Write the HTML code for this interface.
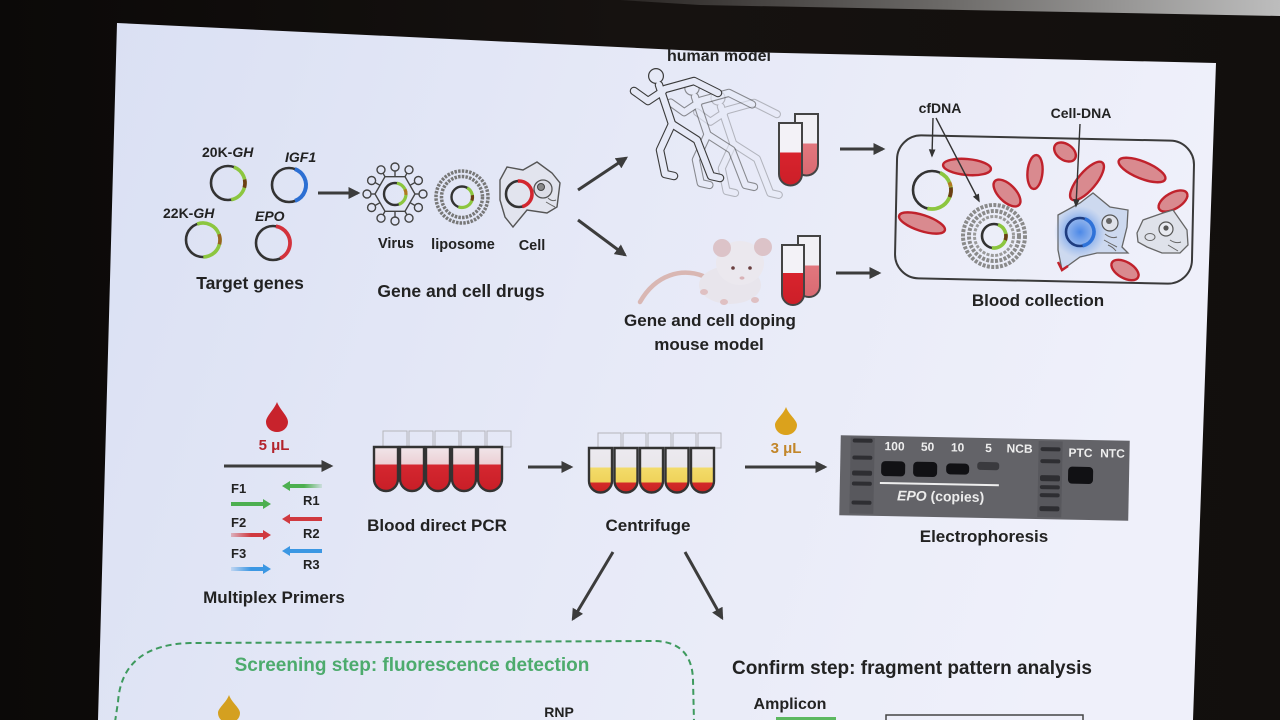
<!DOCTYPE html>
<html><head><meta charset="utf-8"><style>
html,body{margin:0;padding:0;background:#100e0d;}
svg{display:block}
text{font-family:"Liberation Sans",Arial,sans-serif;font-weight:bold;fill:#222}
</style></head><body>
<svg width="1280" height="720" viewBox="0 0 1280 720" xmlns="http://www.w3.org/2000/svg">
<defs>
 <linearGradient id="bg" x1="0" y1="0" x2="1" y2="0">
  <stop offset="0" stop-color="#0b0908"/><stop offset="0.5" stop-color="#161210"/><stop offset="1" stop-color="#120f0d"/>
 </linearGradient>
 <linearGradient id="ceil" x1="0" x2="1" y1="0" y2="0">
  <stop offset="0" stop-color="#2a2624"/><stop offset="0.5" stop-color="#6d6b69"/><stop offset="1" stop-color="#bdbdbd"/>
 </linearGradient>
 <linearGradient id="slide" x1="0" x2="1" y1="0" y2="0.2">
  <stop offset="0" stop-color="#dae0f3"/><stop offset="0.5" stop-color="#e6e9f7"/><stop offset="1" stop-color="#eff0fa"/>
 </linearGradient>
 <clipPath id="sc"><polygon points="117,23 700,51 1216,63 1193,720 98,720"/></clipPath>
 <marker id="ah" viewBox="0 0 10 10" refX="8" refY="5" markerWidth="4" markerHeight="4" orient="auto"><path d="M0,0 L10,5 L0,10 z" fill="#3c3c3c"/></marker>
 <marker id="ahs" viewBox="0 0 10 10" refX="8" refY="5" markerWidth="6" markerHeight="6" orient="auto"><path d="M0,1 L10,5 L0,9 z" fill="#333"/></marker>
 <linearGradient id="gPCR" x1="0" y1="0" x2="0" y2="1">
  <stop offset="0" stop-color="#f1e6ea"/><stop offset="0.4" stop-color="#eccfd4"/><stop offset="0.4" stop-color="#d52730"/><stop offset="1" stop-color="#c81e27"/>
 </linearGradient>
 <linearGradient id="gCen" x1="0" y1="0" x2="0" y2="1">
  <stop offset="0" stop-color="#eceaf0"/><stop offset="0.44" stop-color="#e9e6ea"/><stop offset="0.44" stop-color="#f3dc6a"/><stop offset="0.77" stop-color="#efd25a"/><stop offset="0.77" stop-color="#d42a2a"/><stop offset="1" stop-color="#c82222"/>
 </linearGradient>
 <linearGradient id="gTubeA" x1="0" y1="0" x2="0" y2="1">
  <stop offset="0" stop-color="#f3f2f7"/><stop offset="0.47" stop-color="#f3f2f7"/><stop offset="0.47" stop-color="#d8232d"/><stop offset="1" stop-color="#cc1f28"/>
 </linearGradient>
 <linearGradient id="gTubeB" x1="0" y1="0" x2="0" y2="1">
  <stop offset="0" stop-color="#f1f0f5"/><stop offset="0.48" stop-color="#f1f0f5"/><stop offset="0.48" stop-color="#e2777e"/><stop offset="1" stop-color="#d96a72"/>
 </linearGradient>
 <linearGradient id="gR1" x1="0" x2="1"><stop offset="0" stop-color="#4caf50"/><stop offset="0.55" stop-color="#4caf50"/><stop offset="1" stop-color="#4caf50" stop-opacity="0.15"/></linearGradient>
 <linearGradient id="gF2" x1="0" x2="1"><stop offset="0" stop-color="#d0393f" stop-opacity="0.3"/><stop offset="0.5" stop-color="#d0393f"/><stop offset="1" stop-color="#d0393f"/></linearGradient>
 <linearGradient id="gF3" x1="0" x2="1"><stop offset="0" stop-color="#3b97e3" stop-opacity="0.2"/><stop offset="0.5" stop-color="#3b97e3"/><stop offset="1" stop-color="#3b97e3"/></linearGradient>
 <radialGradient id="glow"><stop offset="0" stop-color="#3d7fe6" stop-opacity="0.9"/><stop offset="0.6" stop-color="#5a92ea" stop-opacity="0.45"/><stop offset="1" stop-color="#7aa6ee" stop-opacity="0"/></radialGradient>
</defs>

<rect width="1280" height="720" fill="url(#bg)"/>
<polygon points="620,0 1280,0 1280,16 700,5" fill="url(#ceil)"/>

<polygon points="117,23 700,51 1216,63 1193,720 98,720" fill="url(#slide)"/>

<g clip-path="url(#sc)">

<text x="202" y="157" font-size="14">20K-<tspan font-style="italic">GH</tspan></text>
<text x="285" y="162" font-size="14" font-style="italic">IGF1</text>
<text x="163" y="218" font-size="14">22K-<tspan font-style="italic">GH</tspan></text>
<text x="255" y="221" font-size="14" font-style="italic">EPO</text>

<g transform="translate(228,183)">
 <circle r="17" fill="none" stroke="#333" stroke-width="2.6"/>
 <circle r="17" fill="none" stroke="#8cc63f" stroke-width="3.6" pathLength="360" stroke-dasharray="150 400" transform="rotate(-70)"/>
 <circle r="17" fill="none" stroke="#6b3e14" stroke-width="3.6" pathLength="360" stroke-dasharray="28 400" transform="rotate(-12)"/>
</g>
<g transform="translate(289,185)">
 <circle r="17" fill="none" stroke="#333" stroke-width="2.6"/>
 <circle r="17" fill="none" stroke="#2c6fd3" stroke-width="4" pathLength="360" stroke-dasharray="140 400" transform="rotate(-70)"/>
</g>
<g transform="translate(203,240)">
 <circle r="17" fill="none" stroke="#333" stroke-width="2.6"/>
 <circle r="17" fill="none" stroke="#8cc63f" stroke-width="3.6" pathLength="360" stroke-dasharray="200 400" transform="rotate(-110)"/>
 <circle r="17" fill="none" stroke="#9a6320" stroke-width="3.6" pathLength="360" stroke-dasharray="35 400" transform="rotate(-20)"/>
</g>
<g transform="translate(273,243)">
 <circle r="17" fill="none" stroke="#333" stroke-width="2.6"/>
 <circle r="17" fill="none" stroke="#d3323c" stroke-width="3.8" pathLength="360" stroke-dasharray="145 400" transform="rotate(-80)"/>
</g>
<text x="250" y="289" font-size="17.5" text-anchor="middle">Target genes</text>

<line x1="318" y1="193" x2="358" y2="193" stroke="#3c3c3c" stroke-width="3" marker-end="url(#ah)"/>

<g transform="translate(395,194)" fill="none" stroke="#444" stroke-width="1.4">
 <polygon points="20,0 10,17.3 -10,17.3 -20,0 -10,-17.3 10,-17.3"/>
 <g>
  <line x1="20" y1="0" x2="24" y2="0"/><circle cx="28" cy="0" r="4"/>
  <line x1="-20" y1="0" x2="-24" y2="0"/><circle cx="-28" cy="0" r="4"/>
  <line x1="10" y1="17.3" x2="12" y2="20.8"/><circle cx="14" cy="24.2" r="4"/>
  <line x1="-10" y1="17.3" x2="-12" y2="20.8"/><circle cx="-14" cy="24.2" r="4"/>
  <line x1="10" y1="-17.3" x2="12" y2="-20.8"/><circle cx="14" cy="-24.2" r="4"/>
  <line x1="-10" y1="-17.3" x2="-12" y2="-20.8"/><circle cx="-14" cy="-24.2" r="4"/>
  <line x1="0" y1="17.3" x2="0" y2="23"/><circle cx="0" cy="27" r="4"/>
  <line x1="0" y1="-17.3" x2="0" y2="-23"/><circle cx="0" cy="-27" r="4"/>
  <line x1="15" y1="8.7" x2="20" y2="11.5"/><circle cx="23.4" cy="13.5" r="4"/>
  <line x1="-15" y1="8.7" x2="-20" y2="11.5"/><circle cx="-23.4" cy="13.5" r="4"/>
  <line x1="15" y1="-8.7" x2="20" y2="-11.5"/><circle cx="23.4" cy="-13.5" r="4"/>
  <line x1="-15" y1="-8.7" x2="-20" y2="-11.5"/><circle cx="-23.4" cy="-13.5" r="4"/>
 </g>
 <circle r="11" stroke="#333" stroke-width="2.4"/>
 <circle r="11" stroke="#8cc63f" stroke-width="3.2" pathLength="360" stroke-dasharray="150 400" transform="rotate(-80)"/>
 <circle r="11" stroke="#b07a22" stroke-width="3.2" pathLength="360" stroke-dasharray="30 400" transform="rotate(-25)"/>
</g>

<g transform="translate(462,197)" fill="none" stroke="#555" stroke-width="0.9">
 <circle r="26" stroke-dasharray="2.5 1.2" stroke-width="3.5" stroke="#777"/>
 <circle r="20.5" stroke-dasharray="2.5 1.2" stroke-width="3.5" stroke="#777"/>
 <circle r="10.5" stroke="#333" stroke-width="2.4"/>
 <circle r="10.5" stroke="#8cc63f" stroke-width="3.2" pathLength="360" stroke-dasharray="170 400" transform="rotate(-60)"/>
 <circle r="10.5" stroke="#6b3e14" stroke-width="3.2" pathLength="360" stroke-dasharray="30 400" transform="rotate(-10)"/>
</g>

<polygon points="500,180 507,167 523,170 537,162 552,173 560,183 557,207 547,213 527,210 513,227 505,217 500,200" fill="#e2e4ee" stroke="#555" stroke-width="1.4"/>
<g transform="translate(519,194)">
 <circle r="13" fill="none" stroke="#333" stroke-width="2.6"/>
 <circle r="13" fill="none" stroke="#d3262e" stroke-width="3.6" pathLength="360" stroke-dasharray="170 400" transform="rotate(-95)"/>
</g>
<circle cx="543" cy="189" r="9" fill="#dcdde6" stroke="#555" stroke-width="1.3"/>
<circle cx="541" cy="187" r="3.5" fill="#888" stroke="#444" stroke-width="1"/>
<path d="M548,198 q4,4 8,2 M546,202 q5,3 9,5" stroke="#666" stroke-width="1" fill="none"/>

<text x="396" y="248" font-size="14.5" text-anchor="middle">Virus</text>
<text x="463" y="249" font-size="14.5" text-anchor="middle">liposome</text>
<text x="532" y="250" font-size="14.5" text-anchor="middle">Cell</text>
<text x="461" y="297" font-size="17.5" text-anchor="middle">Gene and cell drugs</text>

<line x1="578" y1="190" x2="626" y2="158" stroke="#3c3c3c" stroke-width="3" marker-end="url(#ah)"/>
<line x1="578" y1="220" x2="625" y2="255" stroke="#3c3c3c" stroke-width="3" marker-end="url(#ah)"/>

<text x="719" y="61" font-size="16" text-anchor="middle">human model</text>

<g stroke-linecap="round" stroke-linejoin="round" fill="none">
 <g transform="translate(718,98) scale(0.95)" opacity="0.3">
  <g stroke="#3a3a3a" stroke-width="8.5"><path d="M3,9 L16,48"/><path d="M7,15 L-8,25 L-22,15"/><path d="M9,13 L38,5 L62,17"/><path d="M16,48 L4,74 L9,98 L18,100"/><path d="M16,48 L41,64 L55,100 L64,102"/></g>
  <circle r="8" fill="#3a3a3a" stroke="none"/>
  <g stroke="#e8ebf7" stroke-width="6.3"><path d="M3,9 L16,48"/><path d="M7,15 L-8,25 L-22,15"/><path d="M9,13 L38,5 L62,17"/><path d="M16,48 L4,74 L9,98 L18,100"/><path d="M16,48 L41,64 L55,100 L64,102"/></g>
  <circle r="6.8" fill="#e8ebf7" stroke="none"/>
 </g>
 <g transform="translate(692,88) scale(0.97)" opacity="0.55">
  <g stroke="#3a3a3a" stroke-width="8.5"><path d="M3,9 L16,48"/><path d="M7,15 L-8,25 L-22,15"/><path d="M9,13 L38,5 L62,17"/><path d="M16,48 L4,74 L9,98 L18,100"/><path d="M16,48 L41,64 L55,100 L64,102"/></g>
  <circle r="8" fill="#3a3a3a" stroke="none"/>
  <g stroke="#e8ebf7" stroke-width="6.3"><path d="M3,9 L16,48"/><path d="M7,15 L-8,25 L-22,15"/><path d="M9,13 L38,5 L62,17"/><path d="M16,48 L4,74 L9,98 L18,100"/><path d="M16,48 L41,64 L55,100 L64,102"/></g>
  <circle r="6.8" fill="#e8ebf7" stroke="none"/>
 </g>
 <g transform="translate(656,76)">
  <g stroke="#3a3a3a" stroke-width="8.5"><path d="M3,9 L16,48"/><path d="M7,15 L-8,25 L-22,15"/><path d="M9,13 L38,5 L62,17"/><path d="M16,48 L4,74 L9,98 L18,100"/><path d="M16,48 L41,64 L55,100 L64,102"/></g>
  <circle r="8" fill="#3a3a3a" stroke="none"/>
  <g stroke="#e6e9f6" stroke-width="6.3"><path d="M3,9 L16,48"/><path d="M7,15 L-8,25 L-22,15"/><path d="M9,13 L38,5 L62,17"/><path d="M16,48 L4,74 L9,98 L18,100"/><path d="M16,48 L41,64 L55,100 L64,102"/></g>
  <circle r="6.8" fill="#e6e9f6" stroke="none"/>
 </g>
</g>

<path d="M795,114 L795,164 A11.5,11.5 0 0 0 818,164 L818,114 Z" fill="url(#gTubeB)" stroke="#444" stroke-width="2"/>
<path d="M779,123 L779,174 A11.5,11.5 0 0 0 802,174 L802,123 Z" fill="url(#gTubeA)" stroke="#444" stroke-width="2"/>
<line x1="840" y1="149" x2="883" y2="149" stroke="#3c3c3c" stroke-width="3" marker-end="url(#ah)"/>

<g>
 <path d="M703,276 C682,268 656,274 640,302" stroke="#d9b7b3" stroke-width="4.5" fill="none" stroke-linecap="round"/>
 <ellipse cx="730" cy="285" rx="31" ry="19" fill="#e8e5ec"/>
 <ellipse cx="740" cy="263" rx="24" ry="22" fill="#ebe8ee"/>
 <circle cx="722" cy="248" r="9" fill="#dcc3c8"/>
 <circle cx="763" cy="247" r="9" fill="#dcc3c8"/>
 <circle cx="733" cy="268" r="1.8" fill="#6a3f3f"/>
 <circle cx="750" cy="268" r="1.8" fill="#6a3f3f"/>
 <ellipse cx="742" cy="278" rx="2.5" ry="1.6" fill="#d9b2b6"/>
 <ellipse cx="704" cy="292" rx="4" ry="3" fill="#dfc0c2"/>
 <ellipse cx="724" cy="302" rx="4" ry="3" fill="#dfc0c2"/>
 <ellipse cx="755" cy="300" rx="4" ry="3" fill="#dfc0c2"/>
</g>
<path d="M798,236 L798,286 A11,11 0 0 0 820,286 L820,236 Z" fill="url(#gTubeB)" stroke="#444" stroke-width="2"/>
<path d="M782,245 L782,294 A11,11 0 0 0 804,294 L804,245 Z" fill="url(#gTubeA)" stroke="#444" stroke-width="2"/>
<line x1="836" y1="273" x2="879" y2="273" stroke="#3c3c3c" stroke-width="3" marker-end="url(#ah)"/>

<text x="710" y="326" font-size="17" text-anchor="middle">Gene and cell doping</text>
<text x="709" y="350" font-size="17" text-anchor="middle">mouse model</text>

<rect x="896" y="138" width="297" height="143" rx="24" fill="none" stroke="#3a3a3a" stroke-width="2" transform="rotate(1.2 1044 210)"/>
<g fill="#d98a8f" stroke="#c0222c" stroke-width="2.4">
 <ellipse cx="967" cy="167" rx="24" ry="8" transform="rotate(5 967 167)"/>
 <ellipse cx="1007" cy="193" rx="17" ry="8.5" transform="rotate(45 1007 193)"/>
 <ellipse cx="1035" cy="172" rx="7.5" ry="17" transform="rotate(5 1035 172)"/>
 <ellipse cx="1065" cy="152" rx="12" ry="8" transform="rotate(35 1065 152)"/>
 <ellipse cx="1087" cy="181" rx="24" ry="9" transform="rotate(-50 1087 181)"/>
 <ellipse cx="1142" cy="170" rx="25" ry="8.5" transform="rotate(22 1142 170)"/>
 <ellipse cx="1173" cy="201" rx="16" ry="8" transform="rotate(-30 1173 201)"/>
 <ellipse cx="922" cy="223" rx="24" ry="8" transform="rotate(18 922 223)"/>
 <ellipse cx="1125" cy="270" rx="15" ry="8" transform="rotate(30 1125 270)"/>
</g>
<g transform="translate(932,190)">
 <circle r="19" fill="none" stroke="#333" stroke-width="2.6"/>
 <circle r="19" fill="none" stroke="#8cc63f" stroke-width="3.8" pathLength="360" stroke-dasharray="170 400" transform="rotate(-65)"/>
 <circle r="19" fill="none" stroke="#6b3e14" stroke-width="3.8" pathLength="360" stroke-dasharray="30 400" transform="rotate(-8)"/>
 <circle r="19" fill="none" stroke="#b07a22" stroke-width="3.8" pathLength="360" stroke-dasharray="14 400" transform="rotate(-24)"/>
</g>
<g transform="translate(994,236)" fill="none">
 <circle r="31" stroke="#8a8a8a" stroke-width="4" stroke-dasharray="3 1.4"/>
 <circle r="25" stroke="#8a8a8a" stroke-width="4" stroke-dasharray="3 1.4"/>
 <circle r="19.5" stroke="#9a9a9a" stroke-width="3" stroke-dasharray="3 1.4"/>
 <circle r="12" stroke="#333" stroke-width="2.6"/>
 <circle r="12" stroke="#8cc63f" stroke-width="3.6" pathLength="360" stroke-dasharray="170 400" transform="rotate(-70)"/>
 <circle r="12" stroke="#6b3e14" stroke-width="3.6" pathLength="360" stroke-dasharray="30 400" transform="rotate(-10)"/>
</g>
<polygon points="1058,215 1080,203 1093,193 1110,207 1128,210 1127,227 1122,247 1128,253 1097,253 1080,257 1062,270 1058,250" fill="#cdd9ef" stroke="#666" stroke-width="1.3"/>
<path d="M1058,262 L1062,270 L1068,266" stroke="#c0222c" stroke-width="2.5" fill="none"/>
<circle cx="1080" cy="232" r="26" fill="url(#glow)"/>
<circle cx="1080" cy="232" r="14" fill="none" stroke="#1f3d80" stroke-width="2.6"/>
<circle cx="1080" cy="232" r="14" fill="none" stroke="#2f72d8" stroke-width="3.6" pathLength="360" stroke-dasharray="150 400" transform="rotate(-70 1080 232)"/>
<circle cx="1110" cy="223" r="8" fill="#dfe2ea" stroke="#555" stroke-width="1.2"/>
<circle cx="1109" cy="221" r="3" fill="#666"/>
<path d="M1105,234 q6,5 12,3 M1104,240 q7,4 13,7 M1108,245 q5,2 8,6" stroke="#666" stroke-width="1" fill="none"/>
<polygon points="1137,233 1143,220 1163,213 1173,210 1187,230 1188,245 1180,253 1162,253 1147,247 1138,242" fill="#dfe2ea" stroke="#666" stroke-width="1.3"/>
<circle cx="1166" cy="229" r="7" fill="#e8eaf0" stroke="#555" stroke-width="1.2"/>
<circle cx="1166" cy="228" r="2.6" fill="#555"/>
<ellipse cx="1150" cy="237" rx="5" ry="3.5" fill="none" stroke="#666" stroke-width="1"/>
<path d="M1170,240 q6,4 11,2 M1168,245 q5,3 10,6" stroke="#666" stroke-width="1" fill="none"/>

<text x="940" y="113" font-size="14" text-anchor="middle">cfDNA</text>
<text x="1081" y="118" font-size="14" text-anchor="middle">Cell-DNA</text>
<line x1="933" y1="118" x2="932" y2="156" stroke="#333" stroke-width="1.4" marker-end="url(#ahs)"/>
<line x1="936" y1="118" x2="979" y2="201" stroke="#333" stroke-width="1.4" marker-end="url(#ahs)"/>
<line x1="1080" y1="124" x2="1076" y2="206" stroke="#333" stroke-width="1.4" marker-end="url(#ahs)"/>
<text x="1038" y="306" font-size="17" text-anchor="middle">Blood collection</text>

<path d="M277,402 C274,410 266,416 266,422 A11,10 0 0 0 288,422 C288,416 280,410 277,402Z" fill="#c8232c"/>
<text x="274" y="450" font-size="15" text-anchor="middle" style="fill:#b3232c">5 μL</text>
<line x1="224" y1="466" x2="331" y2="466" stroke="#3c3c3c" stroke-width="3" marker-end="url(#ah)"/>

<polygon points="231,502 263,502 263,499 271,504 263,509 263,506 231,506" fill="#4caf50"/>
<polygon points="282,486 290,481 290,484 322,484 322,488 290,488 290,491" fill="url(#gR1)"/>
<polygon points="231,533 263,533 263,530 271,535 263,540 263,537 231,537" fill="url(#gF2)"/>
<polygon points="282,519 290,514 290,517 322,517 322,521 290,521 290,524" fill="#d0393f"/>
<polygon points="231,567 263,567 263,564 271,569 263,574 263,571 231,571" fill="url(#gF3)"/>
<polygon points="282,551 290,546 290,549 322,549 322,553 290,553 290,556" fill="#3b97e3"/>
<text x="231" y="493" font-size="13">F1</text>
<text x="303" y="505" font-size="13">R1</text>
<text x="231" y="527" font-size="13">F2</text>
<text x="303" y="538" font-size="13">R2</text>
<text x="231" y="558" font-size="13">F3</text>
<text x="303" y="569" font-size="13">R3</text>
<text x="274" y="603" font-size="17" text-anchor="middle">Multiplex Primers</text>

<g fill="none" stroke="#b5b5bb" stroke-width="1">
 <rect x="383" y="431" width="24" height="16"/><rect x="409" y="431" width="24" height="16"/><rect x="435" y="431" width="24" height="16"/><rect x="461" y="431" width="24" height="16"/><rect x="487" y="431" width="24" height="16"/>
</g>
<g stroke="#333" stroke-width="2.4" fill="url(#gPCR)">
 <path d="M374,447 L374,479 A12,12 0 0 0 398,479 L398,447 Z"/>
 <path d="M400,447 L400,479 A12,12 0 0 0 424,479 L424,447 Z"/>
 <path d="M426,447 L426,479 A12,12 0 0 0 450,479 L450,447 Z"/>
 <path d="M452,447 L452,479 A12,12 0 0 0 476,479 L476,447 Z"/>
 <path d="M478,447 L478,479 A12,12 0 0 0 502,479 L502,447 Z"/>
</g>
<text x="437" y="531" font-size="17" text-anchor="middle">Blood direct PCR</text>
<line x1="528" y1="467" x2="571" y2="467" stroke="#3c3c3c" stroke-width="3" marker-end="url(#ah)"/>

<g fill="none" stroke="#b5b5bb" stroke-width="1">
 <rect x="598" y="433" width="23" height="15"/><rect x="623" y="433" width="23" height="15"/><rect x="648" y="433" width="23" height="15"/><rect x="673" y="433" width="23" height="15"/><rect x="698" y="433" width="23" height="15"/>
</g>
<g stroke="#333" stroke-width="2.4" fill="url(#gCen)">
 <path d="M589,448 L589,481 A11.5,11.5 0 0 0 612,481 L612,448 Z"/>
 <path d="M614.5,448 L614.5,481 A11.5,11.5 0 0 0 637.5,481 L637.5,448 Z"/>
 <path d="M640,448 L640,481 A11.5,11.5 0 0 0 663,481 L663,448 Z"/>
 <path d="M665.5,448 L665.5,481 A11.5,11.5 0 0 0 688.5,481 L688.5,448 Z"/>
 <path d="M691,448 L691,481 A11.5,11.5 0 0 0 714,481 L714,448 Z"/>
</g>
<text x="648" y="531" font-size="17" text-anchor="middle">Centrifuge</text>

<path d="M786,407 C783,415 775,420 775,425 A11,10 0 0 0 797,425 C797,420 789,415 786,407Z" fill="#dba21c"/>
<text x="786" y="453" font-size="15" text-anchor="middle" style="fill:#c2862a">3 μL</text>
<line x1="745" y1="467" x2="825" y2="467" stroke="#3c3c3c" stroke-width="3" marker-end="url(#ah)"/>

<g transform="rotate(1.1 985 478)">
 <rect x="840" y="438" width="289" height="80" fill="#636368"/>
 <rect x="850" y="440" width="24" height="76" fill="#58585d"/>
 <rect x="1038" y="440" width="24" height="76" fill="#58585d"/>
 <g fill="#2e2e32">
  <rect x="852" y="441" width="20" height="4" rx="2"/><rect x="852" y="458" width="20" height="4" rx="2"/><rect x="852" y="473" width="20" height="5" rx="2"/><rect x="852" y="484" width="20" height="4" rx="2"/><rect x="852" y="503" width="20" height="4" rx="2"/>
  <rect x="1040" y="446" width="20" height="4" rx="2"/><rect x="1040" y="458" width="20" height="4" rx="2"/><rect x="1040" y="474" width="20" height="6" rx="2"/><rect x="1040" y="484" width="20" height="4" rx="2"/><rect x="1040" y="492" width="20" height="4" rx="2"/><rect x="1040" y="505" width="20" height="5" rx="2"/>
 </g>
 <g fill="#111114">
  <rect x="881" y="463" width="24" height="15" rx="4"/>
  <rect x="913" y="463" width="24" height="15" rx="4"/>
  <rect x="946" y="464" width="23" height="11" rx="4"/>
  <rect x="1068" y="465" width="25" height="17" rx="4"/>
 </g>
 <rect x="977" y="462" width="22" height="8" rx="3" fill="#3a3a3e"/>
 <g font-size="12" text-anchor="middle">
  <text x="894" y="452" style="fill:#eee">100</text>
  <text x="927" y="452" style="fill:#eee">50</text>
  <text x="957" y="452" style="fill:#eee">10</text>
  <text x="988" y="452" style="fill:#eee">5</text>
  <text x="1019" y="452" style="fill:#eee">NCB</text>
  <text x="1080" y="455" style="fill:#eee">PTC</text>
  <text x="1112" y="455" style="fill:#eee">NTC</text>
 </g>
 <line x1="880" y1="485" x2="999" y2="485" stroke="#eee" stroke-width="2"/>
 <text x="941" y="502" font-size="14" text-anchor="middle" style="fill:#ececec"><tspan font-style="italic">EPO</tspan> (copies)</text>
</g>
<text x="984" y="542" font-size="17" text-anchor="middle">Electrophoresis</text>

<line x1="613" y1="552" x2="573" y2="619" stroke="#3c3c3c" stroke-width="3" marker-end="url(#ah)"/>
<line x1="685" y1="552" x2="722" y2="618" stroke="#3c3c3c" stroke-width="3" marker-end="url(#ah)"/>

<path d="M115,722 L118,702 Q122,645 190,643 L655,641 Q692,642 693,680 L694,722" fill="none" stroke="#3e9a5e" stroke-width="2" stroke-dasharray="6 4"/>
<text x="412" y="671" font-size="19" text-anchor="middle" style="fill:#4dab6d">Screening step: fluorescence detection</text>
<path d="M229,695 C226,703 218,708 218,713 A11,10 0 0 0 240,713 C240,708 232,703 229,695Z" fill="#d4a020"/>
<text x="559" y="717" font-size="14" text-anchor="middle">RNP</text>

<text x="912" y="674" font-size="19" text-anchor="middle">Confirm step: fragment pattern analysis</text>
<text x="790" y="709" font-size="16" text-anchor="middle">Amplicon</text>
<rect x="776" y="717" width="60" height="6" fill="#5cb860"/>
<rect x="886" y="715" width="197" height="10" fill="none" stroke="#444" stroke-width="1.5"/>
</g>
</svg>
</body></html>
